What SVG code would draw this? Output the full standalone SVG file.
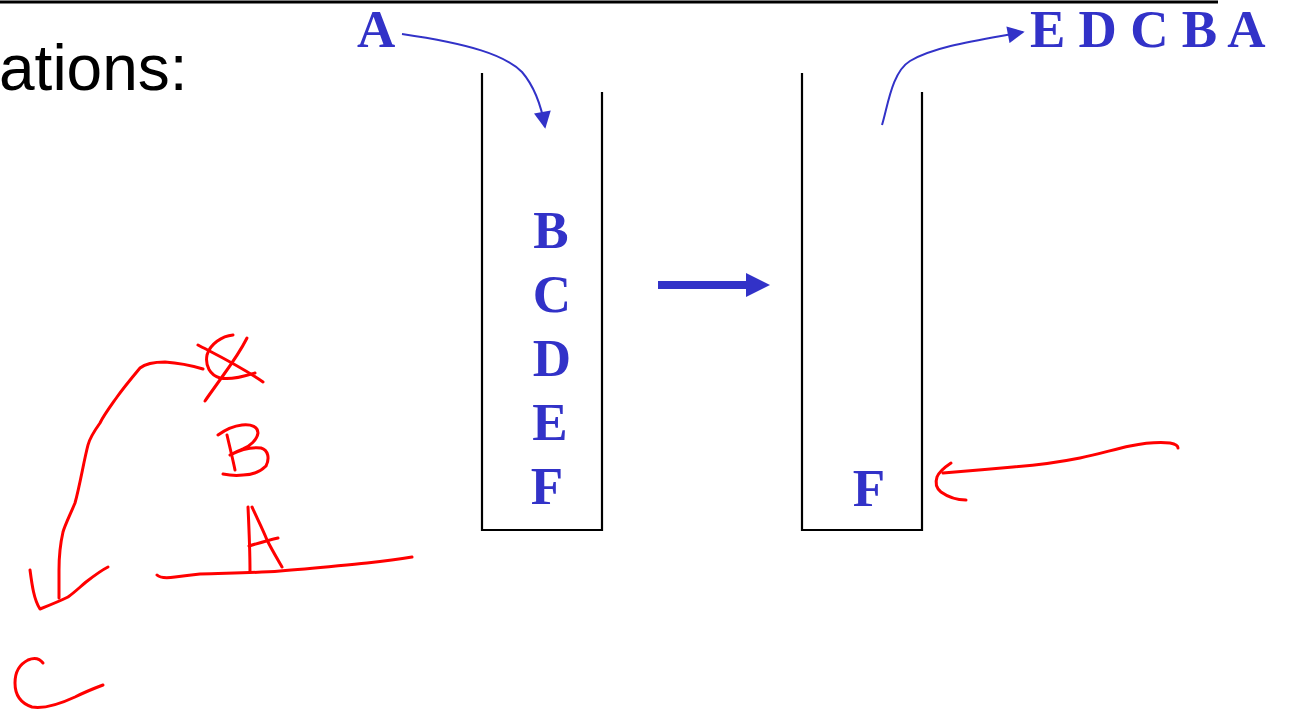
<svg xmlns="http://www.w3.org/2000/svg" width="1290" height="719" viewBox="0 0 1290 719">
<style>
.blue{fill:#3232C8;font-family:"Liberation Serif","Times New Roman",serif;font-weight:bold;font-size:53px}
.wall{fill:none;stroke:#000;stroke-width:2.2}
.bline{fill:none;stroke:#3232C8;stroke-width:2}
.red{fill:none;stroke:#FF0000;stroke-width:3;stroke-linecap:round;stroke-linejoin:round}
</style>
<defs>
<marker id="ah" viewBox="0 0 10 10" refX="9" refY="5" markerWidth="19" markerHeight="17" markerUnits="userSpaceOnUse" orient="auto">
<path d="M0,0 L10,5 L0,10 Z" fill="#3232C8"/>
</marker>
</defs>
<rect width="1290" height="719" fill="#fff"/>
<line x1="0" y1="2" x2="1218" y2="2" stroke="#000" stroke-width="3"/>
<text x="-1" y="90" font-family="Liberation Sans, Arial, sans-serif" font-size="64" fill="#000">ations:</text>

<g id="stack1">
<polyline class="wall" points="482,73 482,530 602,530 602,92"/>
<text class="blue" x="551" y="248" text-anchor="middle">B</text>
<text class="blue" x="552" y="312" text-anchor="middle">C</text>
<text class="blue" x="552" y="376" text-anchor="middle">D</text>
<text class="blue" x="550" y="440" text-anchor="middle">E</text>
<text class="blue" x="547" y="504" text-anchor="middle">F</text>
</g>

<g id="stack2">
<polyline class="wall" points="802,73 802,530 922,530 922,92"/>
<text class="blue" x="869" y="506" text-anchor="middle">F</text>
</g>

<g id="inputLabel"><text class="blue" x="357" y="47">A</text></g>
<g id="outputLabel"><text class="blue" x="1030" y="47">E D C B A</text></g>

<g id="connectors">
<path class="bline" d="M402,34 C470,44 505,55 522,72 C534,86 541,104 545,127" marker-end="url(#ah)"/>
<path class="bline" d="M882,125 C888,105 892,72 910,61 C935,46 980,40 1023,32" marker-end="url(#ah)"/>
<rect x="658" y="281" width="90" height="8" fill="#3232C8"/>
<polygon points="746,273 770,285 746,297" fill="#3232C8"/>
</g>

<g id="annotations">
<path class="red" d="M198,345 C215,354 240,366 263,382"/>
<path class="red" d="M233,335 C222,336 210,344 207,355 C205,366 210,375 220,378 C232,380 245,376 255,373"/>
<path class="red" d="M247,338 C240,352 230,366 222,377 C215,387 209,395 205,401"/>
<path class="red" d="M203,369 C193,366 180,363 165,362 C152,362 145,364 140,368 C130,380 122,390 117,397 C110,407 104,415 100,423 C95,430 90,437 88,445 C84,460 80,485 75,503 C70,515 65,525 63,532 C60,545 59,557 59,570 L59,598"/>
<path class="red" d="M30,570 C32,585 34,600 40,609 C50,605 60,601 68,597 C75,592 80,587 86,582 C95,575 102,570 108,567"/>
<path class="red" d="M227,435 C230,448 233,460 235,470"/>
<path class="red" d="M218,435 C225,430 233,426 242,425 C252,424 258,427 258,433 C257,440 250,446 243,449 C238,451 234,453 230,455 C240,450 252,447 261,448 C268,450 270,458 266,466 C260,472 252,475 243,475 C235,476 228,475 223,474"/>
<path class="red" d="M248,507 C249,528 250,550 250,572"/>
<path class="red" d="M252,507 C258,520 264,532 267,540 C272,550 278,560 282,567"/>
<path class="red" d="M249,546 C259,543 269,540 278,538"/>
<path class="red" d="M157,575 C160,578 168,578 175,577 C182,576 190,575 200,574 C230,573 255,573 280,571 C310,569 335,566 367,563 C385,561 400,559 412,557"/>
<path class="red" d="M43,663 C40,659 35,657 28,660 C20,664 15,672 15,683 C15,695 20,703 32,707 C45,709 60,704 75,697 C85,692 95,688 103,685"/>
<path class="red" d="M943,473 C965,471 990,469 1013,467 C1040,465 1060,462 1080,458 C1100,454 1115,449 1130,446 C1145,443 1160,442 1170,443 C1176,444 1178,446 1178,448"/>
<path class="red" d="M951,463 C945,467 939,472 937,477 C935,483 936,488 941,492 C948,497 957,500 966,500"/>
</g>
</svg>
